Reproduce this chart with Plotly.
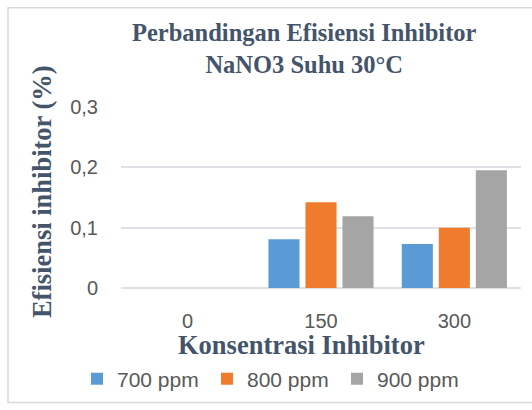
import plotly.graph_objects as go

categories = ["0", "150", "300"]
series_names = ["700 ppm", "800 ppm", "900 ppm"]
v700 = [0, 0.081, 0.073]
v800 = [0, 0.142, 0.100]
v900 = [0, 0.119, 0.195]
colors = ["#5B9BD5", "#EF7B2C", "#A5A5A5"]

W, H = 532, 410
L, R, T, B = 121, 11, 107, 118
pw, ph = W - L - R, H - T - B

def px(x):
    return (x - L) / pw

def py(y):
    return (H - B - y) / ph

fig = go.Figure()
for name, vals, c in zip(series_names, [v700, v800, v900], colors):
    fig.add_trace(go.Bar(x=categories, y=vals, name=name, marker=dict(color=c, line=dict(width=0))))

title_col = "#44546A"
tick_col = "#595959"
serif = "Liberation Serif"
sans = "Liberation Sans"

fig.update_layout(
    width=W, height=H,
    margin=dict(l=L, r=R, t=T, b=B),
    paper_bgcolor="white", plot_bgcolor="white",
    separators=", ",
    barmode="group", bargap=0.167, bargroupgap=0.16,
    xaxis=dict(showgrid=False, showline=False, zeroline=False,
               ticks="", ticklabelstandoff=19,
               tickfont=dict(family=sans, size=20, color=tick_col)),
    yaxis=dict(range=[0, 0.3], dtick=0.1, tick0=0, showgrid=True,
               gridcolor="#DEE2E7", gridwidth=2, zeroline=True,
               zerolinecolor="#DEE2E7", zerolinewidth=2, showline=False,
               ticks="", ticklabelstandoff=22,
               tickfont=dict(family=sans, size=20, color=tick_col)),
    legend=dict(orientation="h", x=px(77), xanchor="left", y=py(385), yanchor="middle",
                font=dict(family=sans, size=21, color=tick_col),
                entrywidth=85, entrywidthmode="pixels", traceorder="normal"),
    showlegend=True,
)

fig.add_annotation(text="<b>Perbandingan Efisiensi Inhibitor<br>NaNO3 Suhu 30°C</b>",
                   xref="paper", yref="paper", x=px(304), y=py(47),
                   xanchor="center", yanchor="middle", showarrow=False,
                   font=dict(family=serif, size=24.5, color=title_col))
fig.add_annotation(text="<b>Efisiensi inhibitor (%)</b>", xref="paper", yref="paper",
                   x=px(42), y=py(194), xanchor="center", yanchor="middle",
                   textangle=-90, showarrow=False,
                   font=dict(family=serif, size=26.5, color=title_col))
fig.add_annotation(text="<b>Konsentrasi Inhibitor</b>", xref="paper", yref="paper",
                   x=px(301), y=py(350), xanchor="center", yanchor="middle",
                   showarrow=False,
                   font=dict(family=serif, size=26.5, color=title_col))

fig.add_shape(type="rect", xref="paper", yref="paper",
              x0=px(8), x1=px(545), y0=py(409), y1=py(5.5),
              line=dict(color="#D9D9D9", width=1.5), layer="below")

fig.write_html("out.html")
